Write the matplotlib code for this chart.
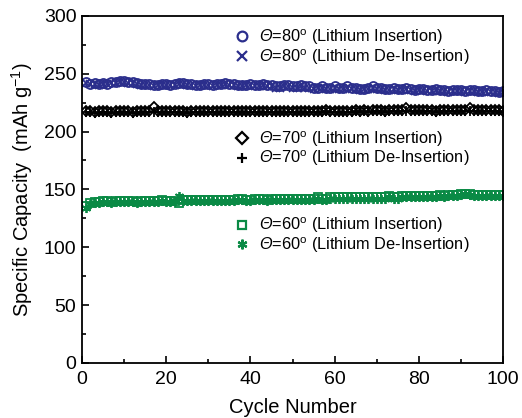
import matplotlib
matplotlib.use("Agg")
import matplotlib.pyplot as plt
from matplotlib.lines import Line2D
from matplotlib.legend import Legend
from matplotlib.ticker import MultipleLocator

plt.rcParams['font.family'] = ['Liberation Sans', 'DejaVu Sans']
plt.rcParams['mathtext.fontset'] = 'custom'
plt.rcParams['mathtext.rm'] = 'Liberation Sans:italic'
plt.rcParams['mathtext.sf'] = 'Liberation Sans'
plt.rcParams['mathtext.it'] = 'Liberation Sans:italic'

cycles = list(range(1, 101))

cap80_ins = [243, 241, 242, 241, 242, 241, 243, 243, 244, 244,
             243, 243, 242, 241, 241, 241, 240, 240, 241, 241,
             240, 241, 242, 242, 241, 241, 240, 240, 241, 241,
             240, 241, 241, 242, 241, 241, 240, 240, 240, 241,
             240, 240, 241, 240, 240, 239, 239, 240, 240, 239,
             239, 240, 239, 239, 238, 238, 239, 238, 238, 239,
             238, 238, 239, 238, 238, 237, 237, 238, 239, 238,
             238, 237, 237, 238, 237, 237, 238, 237, 236, 237,
             237, 236, 236, 237, 236, 236, 235, 236, 236, 236,
             235, 236, 236, 235, 235, 236, 235, 235, 234, 235]
cap80_del = [242, 241, 241, 240, 241, 241, 242, 242, 243, 243,
             242, 242, 241, 240, 240, 240, 239, 240, 240, 240,
             240, 240, 241, 241, 240, 240, 239, 240, 240, 240,
             239, 240, 240, 241, 240, 240, 239, 239, 240, 240,
             239, 239, 240, 239, 239, 238, 238, 239, 239, 238,
             238, 239, 238, 238, 237, 238, 238, 237, 237, 238,
             237, 237, 238, 237, 237, 236, 237, 237, 238, 237,
             237, 236, 236, 237, 236, 236, 237, 236, 235, 236,
             236, 235, 235, 236, 235, 235, 234, 235, 235, 235,
             234, 235, 235, 234, 234, 235, 234, 234, 233, 234]

cap70_ins = [218, 218, 217, 218, 218, 218, 217, 218, 218, 218,
             218, 217, 218, 218, 218, 218, 221, 218, 218, 218,
             218, 218, 218, 218, 217, 218, 218, 218, 218, 218,
             218, 218, 218, 218, 218, 218, 218, 218, 218, 218,
             218, 218, 218, 218, 218, 218, 218, 218, 218, 218,
             218, 218, 218, 218, 218, 218, 218, 219, 218, 218,
             218, 218, 218, 218, 219, 218, 219, 218, 219, 219,
             219, 218, 219, 219, 219, 219, 220, 219, 219, 219,
             219, 219, 219, 218, 219, 219, 219, 219, 219, 219,
             219, 220, 219, 219, 219, 219, 219, 219, 219, 218]
cap70_del = [217, 217, 216, 217, 217, 217, 216, 217, 217, 217,
             217, 216, 217, 217, 217, 217, 217, 217, 217, 217,
             217, 217, 217, 217, 216, 217, 217, 217, 217, 217,
             217, 217, 217, 217, 217, 217, 217, 217, 217, 217,
             217, 217, 217, 217, 217, 217, 217, 217, 217, 217,
             217, 217, 217, 217, 217, 217, 217, 218, 217, 217,
             217, 217, 217, 217, 218, 217, 218, 217, 218, 218,
             218, 217, 218, 218, 218, 218, 218, 218, 218, 218,
             218, 218, 218, 217, 218, 218, 218, 218, 218, 218,
             218, 218, 218, 218, 218, 218, 218, 218, 218, 217]

cap60_ins = [136, 138, 139, 139, 140, 140, 139, 140, 140, 140,
             140, 140, 139, 140, 140, 140, 140, 140, 141, 140,
             140, 140, 138, 141, 141, 141, 141, 141, 141, 141,
             141, 141, 141, 141, 141, 141, 142, 142, 141, 141,
             142, 142, 142, 141, 142, 142, 142, 142, 142, 142,
             142, 142, 142, 142, 142, 143, 142, 142, 143, 143,
             143, 143, 143, 143, 143, 143, 143, 143, 143, 143,
             143, 143, 144, 143, 143, 144, 144, 144, 144, 144,
             144, 144, 144, 144, 145, 144, 145, 145, 145, 146,
             146, 146, 145, 145, 145, 145, 145, 145, 145, 145]
cap60_del = [134, 137, 138, 138, 139, 139, 138, 139, 139, 139,
             139, 139, 138, 139, 139, 139, 139, 139, 140, 139,
             139, 140, 144, 140, 140, 140, 140, 140, 140, 140,
             140, 140, 140, 140, 140, 140, 141, 141, 140, 140,
             141, 141, 141, 140, 141, 141, 141, 141, 141, 141,
             141, 141, 141, 141, 141, 142, 141, 141, 142, 142,
             142, 142, 142, 142, 142, 142, 142, 142, 142, 142,
             142, 142, 143, 142, 142, 143, 143, 143, 143, 143,
             143, 143, 143, 143, 144, 143, 144, 144, 144, 145,
             146, 145, 144, 144, 144, 144, 144, 144, 144, 144]

blue = '#2b2e8c'
green = '#0a8a45'

fig = plt.figure(figsize=(5.22, 4.18), dpi=100)
ax = fig.add_axes([0.157, 0.132, 0.807, 0.830])

ms = 6.5
mw = 1.3
ax.plot(cycles, cap80_ins, ls='none', marker='o', ms=ms, mfc='none', mec=blue, mew=mw)
ax.plot(cycles, cap80_del, ls='none', marker='x', ms=ms * 0.85, mec=blue, mew=mw)
ax.plot(cycles, cap70_ins, ls='none', marker='D', ms=ms * 0.85, mfc='none', mec='black', mew=mw)
ax.plot(cycles, cap70_del, ls='none', marker='+', ms=ms, mec='black', mew=mw)
ax.plot(cycles, cap60_ins, ls='none', marker='s', ms=ms * 0.85, mfc='none', mec=green, mew=mw)
ax.plot(cycles, cap60_del, ls='none', marker=(6, 2, 0), ms=ms, mec=green, mew=mw)

ax.set_xlim(0, 100)
ax.set_ylim(0, 300)
ax.xaxis.set_major_locator(MultipleLocator(20))
ax.xaxis.set_minor_locator(MultipleLocator(10))
ax.yaxis.set_major_locator(MultipleLocator(50))
ax.yaxis.set_minor_locator(MultipleLocator(25))
ax.tick_params(which='both', direction='in', top=False, right=False, labelsize=14, width=1.2)
ax.tick_params(which='major', length=5)
ax.tick_params(which='minor', length=3)
ax.tick_params(axis='x', pad=6)
ax.tick_params(axis='y', pad=4)
for s in ax.spines.values():
    s.set_linewidth(1.3)

ax.set_xlabel('Cycle Number', fontsize=14.5, labelpad=7)
ax.set_ylabel(r'Specific Capacity  (mAh g$^{\mathsf{-1}}$)', fontsize=14.5, labelpad=6)

lab = r'$\mathrm{Θ}$=%d$^{\mathsf{o}}$ (Lithium %s)'

def mk(marker, color, ms_, filled=False):
    return Line2D([], [], ls='none', marker=marker, ms=ms_,
                  mfc=(color if filled else 'none'), mec=color, mew=1.6)

groups = [
    ([mk('o', blue, 7), mk('x', blue, 6.5)], [lab % (80, 'Insertion'), lab % (80, 'De-Insertion')], 0.887),
    ([mk('D', 'black', 6), mk('+', 'black', 7)], [lab % (70, 'Insertion'), lab % (70, 'De-Insertion')], 0.644),
    ([mk('s', green, 6), mk((6, 2, 0), green, 7)], [lab % (60, 'Insertion'), lab % (60, 'De-Insertion')], 0.437),
]
for handles, labels, yc in groups:
    leg = Legend(ax, handles, labels, loc='center left', bbox_to_anchor=(0.452, yc),
                 bbox_transform=fig.transFigure, frameon=False, fontsize=11.8,
                 handlelength=0.8, handletextpad=0.6, labelspacing=0.0, borderpad=0,
                 borderaxespad=0)
    ax.add_artist(leg)

fig.savefig('out.png', dpi=100)
